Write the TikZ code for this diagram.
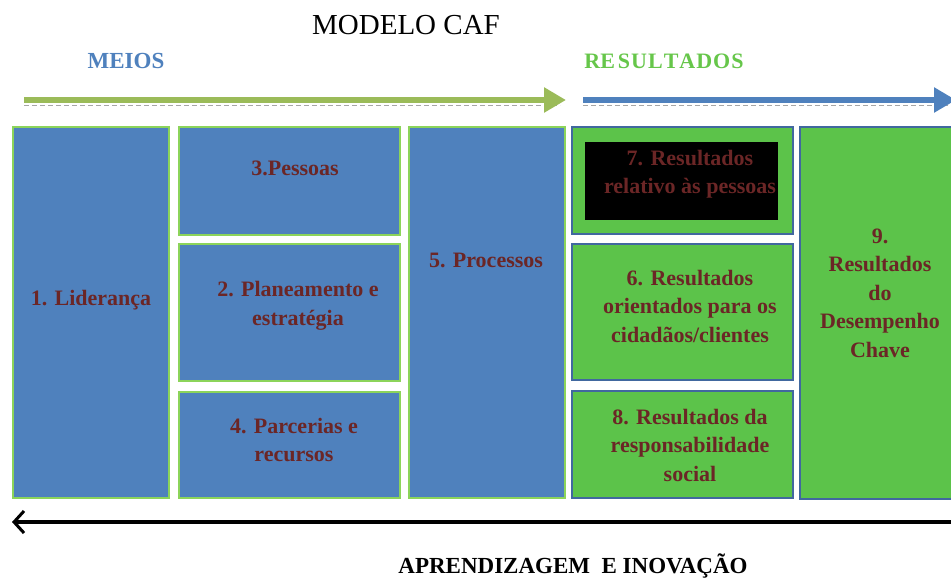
\documentclass[tikz,border=0pt]{standalone}
\usepackage{fontspec}
\setmainfont{Liberation Serif}[BoldFont={Liberation Serif Bold}]
\usetikzlibrary{arrows.meta}
\definecolor{boxblue}{HTML}{4F81BD}
\definecolor{boxgreen}{HTML}{5CC34A}
\definecolor{edgegreen}{HTML}{8CD45A}
\definecolor{edgeblue}{HTML}{41689F}
\definecolor{txtred}{HTML}{6B2626}
\definecolor{arrgreen}{HTML}{9BBB59}
\definecolor{resgreen}{HTML}{66C64A}
\tikzset{
  bluebox/.style={draw=edgegreen, line width=1.5pt, fill=boxblue, anchor=north west, inner sep=0pt},
  greenbox/.style={draw=edgeblue, line width=1.5pt, fill=boxgreen, anchor=north west, inner sep=0pt},
  lbl/.style={text=txtred, font=\bfseries\fontsize{22}{28.5}\selectfont, align=center, inner sep=0pt},
  bigarrow/.style={line width=6pt, -{Triangle[length=22pt,width=24pt]}},
  guide/.style={draw=gray!70, line width=1pt, dash pattern=on 5pt off 3pt}
}
\begin{document}
\begin{tikzpicture}[x=1pt,y=-1pt]
\useasboundingbox (0,0) rectangle (951,579);
% title
\node[font=\fontsize{29}{32}\selectfont] (title) at (406,25) {MODELO CAF};
\node[font=\bfseries\fontsize{23}{26}\selectfont, text=boxblue] (meios) at (126,61) {MEIOS};
\node[font=\bfseries\fontsize{22}{26}\selectfont, text=resgreen] (res) at (664,61) {RE\kern3pt S\kern1pt U\kern1pt L\kern1pt T\kern1pt A\kern1pt D\kern1pt O\kern1pt S};
% top arrows
\coordinate (ga) at (24,100);
\coordinate (gb) at (566,100);
\coordinate (ba) at (583,100);
\coordinate (bb) at (956,100);
\draw[guide] (24,105) -- (560,105);
\draw[guide] (583,105) -- (951,105);
\draw[bigarrow, draw=arrgreen, fill=arrgreen] (ga) -- (gb);
\draw[bigarrow, draw=boxblue, fill=boxblue] (ba) -- (bb);
% boxes
\node[bluebox, minimum width=156pt, minimum height=371pt] (b1) at (12,126) {};
\node[bluebox, minimum width=221pt, minimum height=108pt] (b3) at (178,126) {};
\node[bluebox, minimum width=221pt, minimum height=137pt] (b2) at (178,243) {};
\node[bluebox, minimum width=221pt, minimum height=106pt] (b4) at (178,391) {};
\node[bluebox, minimum width=156pt, minimum height=371pt] (b5) at (408,126) {};
\node[greenbox, minimum width=221pt, minimum height=107pt] (b7) at (571,126) {};
\node[fill=black, anchor=north west, inner sep=0pt, minimum width=193pt, minimum height=78pt] (b7in) at (585,142) {};
\node[greenbox, minimum width=221pt, minimum height=136pt] (b6) at (571,243) {};
\node[greenbox, minimum width=221pt, minimum height=107pt] (b8) at (571,390) {};
\node[greenbox, minimum width=160pt, minimum height=372pt] (b9) at (799,126) {};
% labels
\node[lbl] (t1) at (91,300) {1. Liderança};
\node[lbl] (t3) at (295,168) {3.Pessoas};
\node[lbl] (t2) at (298,306) {2. Planeamento e\\estratégia};
\node[lbl] (t4) at (294,440) {4. Parcerias e\\recursos};
\node[lbl] (t5) at (486,260) {5. Processos};
\node[lbl] (t7) at (690,174) {7. Resultados\\relativo às pessoas};
\node[lbl] (t6) at (690,306) {6. Resultados\\orientados para os\\cidadãos/clientes};
\node[lbl] (t8) at (690,445) {8. Resultados da\\responsabilidade\\social};
\node[lbl] (t9) at (880,293) {9.\\Resultados\\do\\Desempenho\\Chave};
% bottom arrow
\coordinate (ka) at (951,522);
\coordinate (kb) at (12,522);
\draw[line width=4.5pt, -{Straight Barb[length=10pt,width=22pt,line width=3pt]}] (ka) -- (kb);
\node[font=\bfseries\fontsize{23}{26}\selectfont] (learn) at (573,566) {APRENDIZAGEM\ \ E INOVAÇÃO};
\end{tikzpicture}
\end{document}
